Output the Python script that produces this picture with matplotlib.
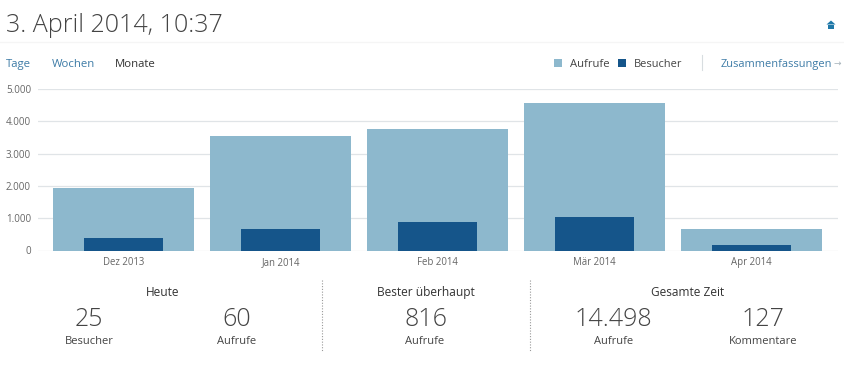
import matplotlib
matplotlib.use('Agg')
import matplotlib.pyplot as plt
from matplotlib.patches import Polygon, Rectangle
from matplotlib.lines import Line2D

months = ['Dez 2013', 'Jan 2014', 'Feb 2014', 'Mär 2014', 'Apr 2014']
aufrufe = [1930, 3545, 3760, 4570, 665]
besucher = [390, 680, 880, 1040, 155]
y_ticks = [0, 1000, 2000, 3000, 4000, 5000]
y_labels = ['0', '1.000', '2.000', '3.000', '4.000', '5.000']

plt.rcParams['font.family'] = ['Open Sans', 'DejaVu Sans']

W, H = 844, 384
fig = plt.figure(figsize=(W / 100, H / 100), dpi=100, facecolor='white')

# full figure overlay in pixel coordinates for the page furniture
bg = fig.add_axes([0, 0, 1, 1])
bg.set_xlim(0, W)
bg.set_ylim(H, 0)
bg.axis('off')

# plot area 38..838 px wide, y=5000 at 89 px, y=0 at 250.5 px
ax = fig.add_axes([38 / W, 1 - 250.5 / H, 800 / W, 161.5 / H])
ax.set_facecolor('none')
x = list(range(len(months)))
ax.bar(x, aufrufe, width=0.898, color='#8db8cd', zorder=2)
ax.bar(x, besucher, width=0.503, color='#15558a', zorder=3)
ax.set_xlim(-0.545, 4.55)
ax.set_ylim(0, 5000)
ax.set_yticks(y_ticks)
ax.set_yticklabels(y_labels, fontsize=7, color='#666666')
ax.set_xticks(x)
ax.set_xticklabels(months, fontsize=6.9, color='#666666')
ax.tick_params(length=0, pad=5)
ax.tick_params(axis='x', pad=10.44)
for lab in ax.get_xticklabels():
    lab.set_verticalalignment('baseline')
ax.grid(axis='y', color='#e0e4e7', lw=0.9, zorder=1)
ax.set_axisbelow(True)
for s in ax.spines.values():
    s.set_visible(False)

# header
bg.text(6, 32, '3. April 2014, 10:37', fontsize=18, color='#444444', va='baseline', ha='left', fontweight='light')
bg.add_line(Line2D([0, 844], [42, 42], color='#f5f5f5', lw=1))
# home icon
bg.add_patch(Polygon([(826.5, 24.5), (831, 20.5), (835.5, 24.5)], color='#1f78a8', lw=0))
bg.add_patch(Rectangle((828, 24.5), 6, 4, color='#1f78a8', lw=0))

# tabs
bg.text(6, 67, 'Tage', fontsize=8.2, color='#3d7ba6', va='baseline')
bg.text(52, 67, 'Wochen', fontsize=8.2, color='#3d7ba6', va='baseline')
bg.text(115, 67, 'Monate', fontsize=8.2, color='#333333', va='baseline')

# legend
bg.add_patch(Rectangle((554, 59), 8, 8, color='#8db8cd', lw=0))
bg.text(570, 67, 'Aufrufe', fontsize=8.1, color='#444444', va='baseline')
bg.add_patch(Rectangle((618, 59), 8, 8, color='#15558a', lw=0))
bg.text(633.5, 67, 'Besucher', fontsize=7.9, color='#444444', va='baseline')
bg.add_line(Line2D([701.5, 701.5], [55, 70], color='#d8dde0', lw=0.8))
bg.text(721, 67, 'Zusammenfassungen', fontsize=7.95, color='#3d7ba6', va='baseline')
bg.text(837.5, 63, '→', fontsize=6.5, color='#a8b4bc', va='center', ha='center', family='DejaVu Sans')

# summary block
bg.text(163, 296, 'Heute', fontsize=8.6, color='#333333', ha='center', va='baseline')
bg.text(89, 326, '25', fontsize=18, color='#444444', ha='center', va='baseline', fontweight='light')
bg.text(89.5, 344, 'Besucher', fontsize=8, color='#444444', ha='center', va='baseline')
bg.text(237, 326, '60', fontsize=18, color='#444444', ha='center', va='baseline', fontweight='light')
bg.text(237, 344, 'Aufrufe', fontsize=8, color='#444444', ha='center', va='baseline')

bg.add_line(Line2D([321.5, 321.5], [280, 352], color='#999999', lw=0.8, ls=(0, (1, 1.5))))
bg.text(426, 296, 'Bester überhaupt', fontsize=8.6, color='#333333', ha='center', va='baseline')
bg.text(426, 326, '816', fontsize=18, color='#444444', ha='center', va='baseline', fontweight='light')
bg.text(425, 344, 'Aufrufe', fontsize=8, color='#444444', ha='center', va='baseline')

bg.add_line(Line2D([529.5, 529.5], [280, 352], color='#999999', lw=0.8, ls=(0, (1, 1.5))))
bg.text(688, 296, 'Gesamte Zeit', fontsize=8.6, color='#333333', ha='center', va='baseline')
bg.text(613, 326, '14.498', fontsize=18, color='#444444', ha='center', va='baseline', fontweight='light')
bg.text(613.5, 344, 'Aufrufe', fontsize=8, color='#444444', ha='center', va='baseline')
bg.text(763, 326, '127', fontsize=18, color='#444444', ha='center', va='baseline', fontweight='light')
bg.text(763, 344, 'Kommentare', fontsize=8, color='#444444', ha='center', va='baseline')

fig.savefig('out.png', dpi=100)
